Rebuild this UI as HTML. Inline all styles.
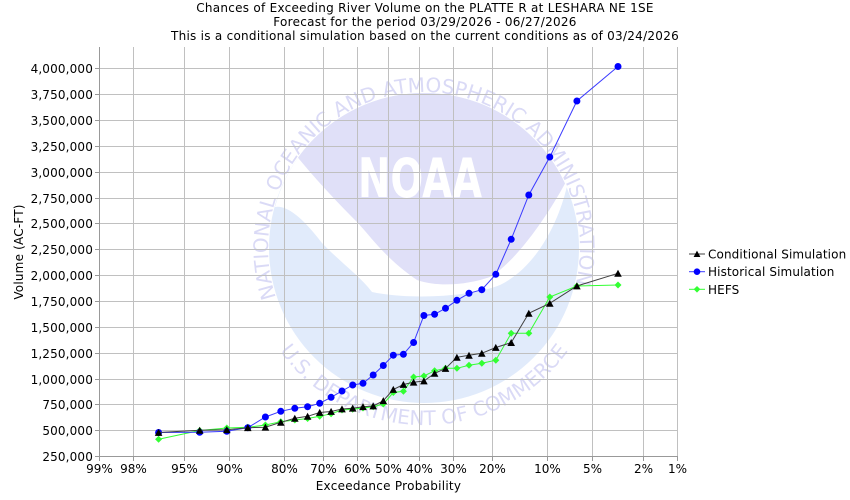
<!DOCTYPE html>
<html>
<head>
<meta charset="utf-8">
<style>
html,body{margin:0;padding:0;background:#fff;}
svg{display:block;}
text{font-family:"DejaVu Sans","Liberation Sans",sans-serif;}
</style>
</head>
<body>
<svg width="850" height="500" viewBox="0 0 850 500" xmlns="http://www.w3.org/2000/svg">
<defs>
  <path id="tri" d="M0,-3.6 L3.8,3.4 L-3.8,3.4 Z" fill="#000"/>
  <path id="dia" d="M0,-3.5 L3.5,0 L0,3.5 L-3.5,0 Z" fill="#33ff33"/>
  <circle id="cir" cx="0" cy="0" r="3.5" fill="#0000ff"/>
  <path id="topArc" d="M279.9,307.7 A156,156 0 1 1 572.8,294.9" fill="none"/>
  <path id="botArc" d="M257.7,187.5 A177,177 0 1 0 590.3,187.5" fill="none"/>
</defs>
<rect width="850" height="500" fill="#fff"/>

<!-- Titles -->
<g font-size="12" fill="#000" text-anchor="middle" letter-spacing="0.27">
  <text x="425" y="12">Chances of Exceeding River Volume on the PLATTE R at LESHARA NE 1SE</text>
  <text x="425" y="26">Forecast for the period 03/29/2026 - 06/27/2026</text>
  <text x="425" y="40">This is a conditional simulation based on the current conditions as of 03/24/2026</text>
</g>

<!-- NOAA logo watermark -->
<g>
  <circle cx="424" cy="248" r="155" fill="#e1ebfb"/>
  <path d="M298,157.7 A155,155 0 0 0 275,207 C285,205 300,214 322,243 C340,262 360,276 372,292 C410,300 470,297 500,285 C535,268 558,225 567,186 L565,183.6 Z" fill="#fff"/>
  <path d="M298,157.7 C318,182 340,205 357,222 C372,238 385,258 417,280 C440,288 470,284 490,277 C515,262 545,220 565,183.6 A155,155 0 0 0 298,157.7 Z" fill="#e0e0f8"/>
  <text x="358" y="197" font-family="DejaVu Sans" font-weight="bold" font-size="54" fill="#fff" textLength="124" lengthAdjust="spacingAndGlyphs">NOAA</text>
  <text font-family="Liberation Sans, sans-serif" font-size="20" fill="#dadaf6"><textPath href="#topArc" startOffset="50%" text-anchor="middle">NATIONAL OCEANIC AND ATMOSPHERIC ADMINISTRATION</textPath></text>
  <text font-family="Liberation Sans, sans-serif" font-size="20" fill="#dadaf6"><textPath href="#botArc" startOffset="50%" text-anchor="middle">U.S. DEPARTMENT OF COMMERCE</textPath></text>
</g>

<!-- Gridlines -->
<g stroke="#c0c0c0" stroke-width="1" fill="none">
  <path d="M99,68.5H677.5 M99,94.5H677.5 M99,120.5H677.5 M99,146.5H677.5 M99,172.5H677.5 M99,198.5H677.5 M99,223.5H677.5 M99,249.5H677.5 M99,275.5H677.5 M99,301.5H677.5 M99,327.5H677.5 M99,353.5H677.5 M99,379.5H677.5 M99,404.5H677.5 M99,430.5H677.5"/>
  <path d="M133.5,47V457 M184.5,47V457 M229.5,47V457 M284.5,47V457 M323.5,47V457 M357.5,47V457 M388.5,47V457 M419.5,47V457 M453.5,47V457 M492.5,47V457 M547.5,47V457 M592.5,47V457 M643.5,47V457 M677.5,47V457"/>
</g>

<!-- Axes -->
<g stroke="#999" stroke-width="1" fill="none">
  <path d="M99.5,47V457"/>
  <path d="M99,456.5H678"/>
  <path d="M95,68.5H99 M95,94.5H99 M95,120.5H99 M95,146.5H99 M95,172.5H99 M95,198.5H99 M95,223.5H99 M95,249.5H99 M95,275.5H99 M95,301.5H99 M95,327.5H99 M95,353.5H99 M95,379.5H99 M95,404.5H99 M95,430.5H99 M95,456.5H99"/>
  <path d="M99.5,457V461 M133.5,457V461 M184.5,457V461 M229.5,457V461 M284.5,457V461 M323.5,457V461 M357.5,457V461 M388.5,457V461 M419.5,457V461 M453.5,457V461 M492.5,457V461 M547.5,457V461 M592.5,457V461 M643.5,457V461 M677.5,457V461"/>
</g>

<!-- Y tick labels -->
<g font-size="12" fill="#000" text-anchor="end" letter-spacing="0.15">
  <text x="93" y="73">4,000,000</text>
  <text x="93" y="99">3,750,000</text>
  <text x="93" y="125">3,500,000</text>
  <text x="93" y="151">3,250,000</text>
  <text x="93" y="177">3,000,000</text>
  <text x="93" y="203">2,750,000</text>
  <text x="93" y="228">2,500,000</text>
  <text x="93" y="254">2,250,000</text>
  <text x="93" y="280">2,000,000</text>
  <text x="93" y="306">1,750,000</text>
  <text x="93" y="332">1,500,000</text>
  <text x="93" y="358">1,250,000</text>
  <text x="93" y="384">1,000,000</text>
  <text x="93" y="409">750,000</text>
  <text x="93" y="435">500,000</text>
  <text x="93" y="461">250,000</text>
</g>

<!-- X tick labels -->
<g font-size="12" fill="#000" text-anchor="middle">
  <text x="99.5" y="473">99%</text>
  <text x="133.5" y="473">98%</text>
  <text x="184.5" y="473">95%</text>
  <text x="229.5" y="473">90%</text>
  <text x="284.5" y="473">80%</text>
  <text x="323.5" y="473">70%</text>
  <text x="357.5" y="473">60%</text>
  <text x="388.5" y="473">50%</text>
  <text x="419.5" y="473">40%</text>
  <text x="453.5" y="473">30%</text>
  <text x="492.5" y="473">20%</text>
  <text x="547.5" y="473">10%</text>
  <text x="592.5" y="473">5%</text>
  <text x="643.5" y="473">2%</text>
  <text x="677.5" y="473">1%</text>
</g>

<!-- Axis labels -->
<text x="388.5" y="490" font-size="12" fill="#000" text-anchor="middle" letter-spacing="0.27">Exceedance Probability</text>
<text transform="translate(23,252) rotate(-90)" font-size="12" fill="#000" text-anchor="middle" letter-spacing="0.2">Volume (AC-FT)</text>

<!-- HEFS (green) -->
<polyline fill="none" stroke="#33ff33" stroke-width="1" points="158.6,439.3 199.7,430.5 226.8,428 247.8,427.3 265.4,425 280.8,421.7 294.8,420 307.6,418.5 319.7,416.3 331.1,413.7 342,410 352.7,409.3 363,408 373.2,406.7 383.3,404 393.3,392.5 403.4,391.3 413.6,377 423.9,376 434.6,370.8 445.5,368.3 456.9,368.3 469,365.3 481.8,363.3 495.8,360.2 511.2,333.3 528.8,333.3 549.8,297 576.9,286 618,285"/>
<g>
  <use href="#dia" x="158.6" y="439.3"/><use href="#dia" x="199.7" y="430.5"/><use href="#dia" x="226.8" y="428"/><use href="#dia" x="247.8" y="427.3"/><use href="#dia" x="265.4" y="425"/><use href="#dia" x="280.8" y="421.7"/><use href="#dia" x="294.8" y="420"/><use href="#dia" x="307.6" y="418.5"/><use href="#dia" x="319.7" y="416.3"/><use href="#dia" x="331.1" y="413.7"/><use href="#dia" x="342" y="410"/><use href="#dia" x="352.7" y="409.3"/><use href="#dia" x="363" y="408"/><use href="#dia" x="373.2" y="406.7"/><use href="#dia" x="383.3" y="404"/><use href="#dia" x="393.3" y="392.5"/><use href="#dia" x="403.4" y="391.3"/><use href="#dia" x="413.6" y="377"/><use href="#dia" x="423.9" y="376"/><use href="#dia" x="434.6" y="370.8"/><use href="#dia" x="445.5" y="368.3"/><use href="#dia" x="456.9" y="368.3"/><use href="#dia" x="469" y="365.3"/><use href="#dia" x="481.8" y="363.3"/><use href="#dia" x="495.8" y="360.2"/><use href="#dia" x="511.2" y="333.3"/><use href="#dia" x="528.8" y="333.3"/><use href="#dia" x="549.8" y="297"/><use href="#dia" x="576.9" y="286"/><use href="#dia" x="618" y="285"/>
</g>

<!-- Historical (blue) -->
<polyline fill="none" stroke="#3a3aff" stroke-width="1" points="158.6,432.5 199.7,432.3 226.8,431.3 247.8,427.7 265.4,417 280.8,411.3 294.8,408.3 307.6,406.7 319.7,403.3 331.1,397.3 342,391 352.7,385 363,383.3 373.2,375 383.3,365.5 393.3,355.2 403.4,354.3 413.6,342.5 423.9,315.5 434.6,314.3 445.5,308.3 456.9,300.3 469,293.3 481.8,289.7 495.8,274.3 511.2,239.3 528.8,195 549.8,157 576.9,101 618,66.5"/>
<g>
  <use href="#cir" x="158.6" y="432.5"/><use href="#cir" x="199.7" y="432.3"/><use href="#cir" x="226.8" y="431.3"/><use href="#cir" x="247.8" y="427.7"/><use href="#cir" x="265.4" y="417"/><use href="#cir" x="280.8" y="411.3"/><use href="#cir" x="294.8" y="408.3"/><use href="#cir" x="307.6" y="406.7"/><use href="#cir" x="319.7" y="403.3"/><use href="#cir" x="331.1" y="397.3"/><use href="#cir" x="342" y="391"/><use href="#cir" x="352.7" y="385"/><use href="#cir" x="363" y="383.3"/><use href="#cir" x="373.2" y="375"/><use href="#cir" x="383.3" y="365.5"/><use href="#cir" x="393.3" y="355.2"/><use href="#cir" x="403.4" y="354.3"/><use href="#cir" x="413.6" y="342.5"/><use href="#cir" x="423.9" y="315.5"/><use href="#cir" x="434.6" y="314.3"/><use href="#cir" x="445.5" y="308.3"/><use href="#cir" x="456.9" y="300.3"/><use href="#cir" x="469" y="293.3"/><use href="#cir" x="481.8" y="289.7"/><use href="#cir" x="495.8" y="274.3"/><use href="#cir" x="511.2" y="239.3"/><use href="#cir" x="528.8" y="195"/><use href="#cir" x="549.8" y="157"/><use href="#cir" x="576.9" y="101"/><use href="#cir" x="618" y="66.5"/>
</g>

<!-- Conditional (black) -->
<polyline fill="none" stroke="#404040" stroke-width="1" points="158.6,432.5 199.7,430.3 226.8,429.7 247.8,427.7 265.4,427.2 280.8,422.3 294.8,418.3 307.6,416.3 319.7,412.5 331.1,411.5 342,409 352.7,408.2 363,406.7 373.2,406 383.3,400.7 393.3,389.5 403.4,384.5 413.6,382.2 423.9,381 434.6,373.4 445.5,368.5 456.9,357.3 469,355.3 481.8,353.3 495.8,347.5 511.2,342.6 528.8,313.3 549.8,303.3 576.9,286 618,273.3"/>
<g>
  <use href="#tri" x="158.6" y="432.5"/><use href="#tri" x="199.7" y="430.3"/><use href="#tri" x="226.8" y="429.7"/><use href="#tri" x="247.8" y="427.7"/><use href="#tri" x="265.4" y="427.2"/><use href="#tri" x="280.8" y="422.3"/><use href="#tri" x="294.8" y="418.3"/><use href="#tri" x="307.6" y="416.3"/><use href="#tri" x="319.7" y="412.5"/><use href="#tri" x="331.1" y="411.5"/><use href="#tri" x="342" y="409"/><use href="#tri" x="352.7" y="408.2"/><use href="#tri" x="363" y="406.7"/><use href="#tri" x="373.2" y="406"/><use href="#tri" x="383.3" y="400.7"/><use href="#tri" x="393.3" y="389.5"/><use href="#tri" x="403.4" y="384.5"/><use href="#tri" x="413.6" y="382.2"/><use href="#tri" x="423.9" y="381"/><use href="#tri" x="434.6" y="373.4"/><use href="#tri" x="445.5" y="368.5"/><use href="#tri" x="456.9" y="357.3"/><use href="#tri" x="469" y="355.3"/><use href="#tri" x="481.8" y="353.3"/><use href="#tri" x="495.8" y="347.5"/><use href="#tri" x="511.2" y="342.6"/><use href="#tri" x="528.8" y="313.3"/><use href="#tri" x="549.8" y="303.3"/><use href="#tri" x="576.9" y="286"/><use href="#tri" x="618" y="273.3"/>
</g>

<!-- Legend -->
<g>
  <line x1="689" y1="254" x2="705" y2="254" stroke="#404040" stroke-width="1"/>
  <path d="M697,250.6 L700.4,257 L693.6,257 Z" fill="#000"/>
  <text x="708" y="258.5" font-size="12" fill="#000" letter-spacing="0.12">Conditional Simulation</text>

  <line x1="689" y1="271.7" x2="705" y2="271.7" stroke="#3a3aff" stroke-width="1"/>
  <circle cx="697" cy="271.7" r="3.3" fill="#0000ff"/>
  <text x="708" y="276.2" font-size="12" fill="#000" letter-spacing="0.12">Historical Simulation</text>

  <line x1="689" y1="289.3" x2="705" y2="289.3" stroke="#33ff33" stroke-width="1"/>
  <path d="M697,286 L700.3,289.3 L697,292.6 L693.7,289.3 Z" fill="#33ff33"/>
  <text x="708" y="293.8" font-size="12" fill="#000" letter-spacing="0.12">HEFS</text>
</g>
</svg>
</body>
</html>
